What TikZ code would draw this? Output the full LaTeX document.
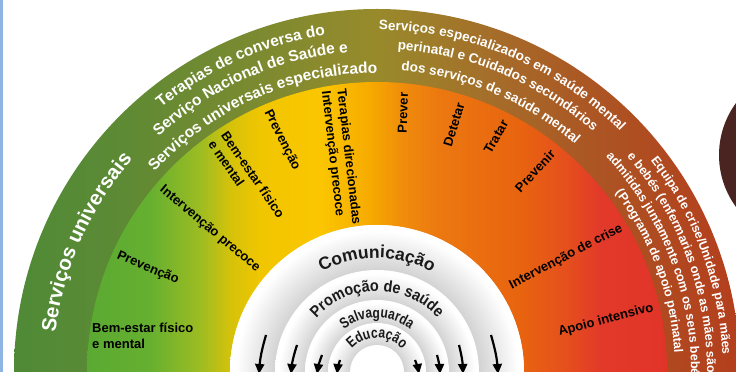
\documentclass[tikz,border=0pt]{standalone}
\usepackage{fontspec}
\setmainfont{Liberation Sans}
\newfontfamily\narrowA{Liberation Sans}[FakeStretch=0.9]
\newfontfamily\narrowB{Liberation Sans}[FakeStretch=0.8]
\usetikzlibrary{decorations.text,arrows.meta}

\definecolor{ob1}{HTML}{4F8A37}
\definecolor{ob2}{HTML}{5D8A34}
\definecolor{ob3}{HTML}{7A8A30}
\definecolor{ob4}{HTML}{988A2B}
\definecolor{ob5}{HTML}{A4702A}
\definecolor{ob6}{HTML}{AB5824}
\definecolor{ob7}{HTML}{B1461F}
\definecolor{ob8}{HTML}{B43E1D}

\definecolor{id1}{HTML}{5AA932}
\definecolor{id2}{HTML}{66B030}
\definecolor{id3}{HTML}{9CBC22}
\definecolor{id4}{HTML}{D4C20A}
\definecolor{id5}{HTML}{F0C600}
\definecolor{id6}{HTML}{FBC600}
\definecolor{id7}{HTML}{F6AA00}
\definecolor{id8}{HTML}{F08A0C}
\definecolor{id9}{HTML}{EC7810}
\definecolor{id10}{HTML}{E8640F}
\definecolor{id11}{HTML}{E5501C}
\definecolor{id12}{HTML}{E23A2A}
\definecolor{id13}{HTML}{E03428}

\definecolor{ringgray}{HTML}{D3D3D3}
\definecolor{ringtext}{HTML}{1A1A1A}
\definecolor{brownc}{HTML}{4A2420}
\definecolor{bluel}{HTML}{8DB4E2}

\pgfdeclarehorizontalshading{outerband}{100bp}{color(0bp)=(ob1); color(25bp)=(ob1); color(32.3bp)=(ob2); color(41.3bp)=(ob3); color(50bp)=(ob4); color(57.1bp)=(ob5); color(64bp)=(ob6); color(70.9bp)=(ob7); color(75bp)=(ob8); color(100bp)=(ob8)}
\pgfdeclarehorizontalshading{innerdisc}{100bp}{color(0bp)=(id1); color(25bp)=(id1); color(30.4bp)=(id2); color(34.7bp)=(id3); color(37.3bp)=(id4); color(39.9bp)=(id5); color(45.1bp)=(id6); color(49.4bp)=(id7); color(52.4bp)=(id8); color(55.4bp)=(id9); color(62.3bp)=(id10); color(66.2bp)=(id11); color(69.2bp)=(id12); color(75bp)=(id13); color(100bp)=(id13)}
\pgfdeclareradialshading{ringA}{\pgfpoint{0bp}{0bp}}{color(0bp)=(ringgray); color(17.35bp)=(ringgray); color(24bp)=(white); color(50bp)=(white)}
\pgfdeclareradialshading{ringB}{\pgfpoint{0bp}{0bp}}{color(0bp)=(ringgray); color(17.65bp)=(ringgray); color(24bp)=(white); color(50bp)=(white)}
\pgfdeclareradialshading{ringC}{\pgfpoint{0bp}{0bp}}{color(0bp)=(ringgray); color(17.0bp)=(ringgray); color(24bp)=(white); color(50bp)=(white)}
\pgfdeclareradialshading{ringD}{\pgfpoint{0bp}{0bp}}{color(0bp)=(ringgray); color(13.8bp)=(ringgray); color(24bp)=(white); color(50bp)=(white)}

\newcommand\fUniv{\fontsize{20.5}{24}\selectfont\bfseries\color{white}}
\newcommand\fTL{\fontsize{15.5}{18}\selectfont\bfseries\color{white}}
\newcommand\fTR{\fontsize{13.5}{16}\selectfont\bfseries\color{white}}
\newcommand\fRt{\fontsize{12.5}{15}\selectfont\bfseries\color{white}}
\newcommand\fCom{\fontsize{17.5}{20}\selectfont\bfseries\color{ringtext}}
\newcommand\fPro{\fontsize{16}{18}\narrowA\bfseries\color{ringtext}}
\newcommand\fSal{\fontsize{15}{17}\narrowB\bfseries\color{ringtext}}

% #1 radius, #2 centre angle, #3 half span, #4 format, #5 text
\newcommand\ArcLabel[5]{%
  \pgfmathsetmacro\arcsa{#2+#3}%
  \pgfmathsetmacro\arcea{#2-#3}%
  \path[decorate, decoration={text along path, text align=center, text={|#4|#5}}]
    ([shift={(C)}]\arcsa:#1) arc[start angle=\arcsa, end angle=\arcea, radius=#1];}

\tikzset{
  lbl/.style={font=\fontsize{13}{15.5}\selectfont\bfseries, text=black, inner sep=0pt},
  arr/.style={line width=2.2pt, -{Triangle[length=10pt,width=9pt]}}
}

\begin{document}
\begin{tikzpicture}[x=1pt,y=1pt]
\useasboundingbox (0,0) rectangle (736,372);
\fill[white] (0,0) rectangle (736,372);
\clip (0,0) rectangle (736,372);
\coordinate (C) at (377,0);

% left blue rule and right brown circle
\fill[bluel] (0,0) rectangle (3,372);
\fill[brownc] (807,217) circle[radius=88];

% bands
\shade[shading=outerband] (C) circle[radius=363];
\shade[shading=innerdisc] (C) circle[radius=290];
\fill[white] (C) circle[radius=147];
\shade[shading=ringA] (C) circle[radius=147];
\shade[shading=ringB] (C) circle[radius=102];
\shade[shading=ringC] (C) circle[radius=72];
\shade[shading=ringD] (C) circle[radius=49];
\fill[white] (C) circle[radius=27];

% outer band texts
\ArcLabel{324}{156}{40}{\fUniv}{Serviços universais}
\ArcLabel{341}{114}{45}{\fTL}{Terapias de conversa do}
\ArcLabel{321}{114}{45}{\fTL}{Serviço Nacional de Saúde e}
\ArcLabel{299}{114}{45}{\fTL}{Serviços universais especializado}
\ArcLabel{342}{67.2}{40}{\fTR}{Serviços especializados em saúde mental}
\ArcLabel{323}{67.2}{40}{\fTR}{perinatal e Cuidados secundários}
\ArcLabel{302}{67.2}{40}{\fTR}{dos serviços de saúde mental}
\ArcLabel{346}{20.3}{45}{\fRt}{Equipa de crise/Unidade para mães}
\ArcLabel{330}{20.3}{45}{\fRt}{e bebés (enfermarias onde as mães são}
\ArcLabel{314}{20.3}{45}{\fRt}{admitidas juntamente com os seus bebés)}
\ArcLabel{298}{20.3}{45}{\fRt}{(Programa de apoio perinatal}

% ring texts
\ArcLabel{114}{90}{80}{\fCom}{Comunicação}
\ArcLabel{81}{90}{85}{\fPro}{Promoção de saúde}
\ArcLabel{54}{90}{85}{\fSal}{Salvaguarda}
\ArcLabel{34}{90}{85}{\fSal}{Educação}

% inner disc labels
\node[lbl, anchor=west, align=left] (bem1) at (92,36) {Bem-estar físico\\e mental};
\node[lbl, rotate=-23] (prev1) at (148,104) {Prevenção};
\node[lbl, rotate=-40] (intp1) at (210,143) {Intervenção precoce};
\node[lbl, rotate=-55.5, anchor=west, align=left] (bem2) at (218,235) {Bem-estar físico\\e mental};
\node[lbl, rotate=-63.5] (prev2) at (282,232) {Prevenção};
\node[lbl, rotate=-83.5, anchor=west, align=left] (terap) at (333,282) {Terapias direcionadas\\Intervenção precoce};
\node[lbl, rotate=88] (prever) at (403,259) {Prever};
\node[lbl, rotate=73] (detetar) at (454,247) {Detetar};
\node[lbl, rotate=60] (tratar) at (496,235) {Tratar};
\node[lbl, rotate=47] (prevenir) at (535,201) {Prevenir};
\node[lbl, rotate=27.5] (crise) at (566,115) {Intervenção de crise};
\node[lbl, rotate=14.5] (apoio) at (606,52) {Apoio intensivo};

% arrows
\coordinate (a1s) at (266,37);  \coordinate (a1e) at (259,-2);
\coordinate (a2s) at (297,27);  \coordinate (a2e) at (291,-2);
\coordinate (a3s) at (322,17);  \coordinate (a3e) at (317,-2);
\coordinate (a4s) at (340,12);  \coordinate (a4e) at (337,-2);
\coordinate (a5s) at (415,12);  \coordinate (a5e) at (419,-2);
\coordinate (a6s) at (437,17);  \coordinate (a6e) at (440,-2);
\coordinate (a7s) at (459,27);  \coordinate (a7e) at (463,-2);
\coordinate (a8s) at (491,37);  \coordinate (a8e) at (498,-2);
\draw[arr] (a1s) to[bend right=6] (a1e);
\draw[arr] (a2s) to[bend right=6] (a2e);
\draw[arr] (a3s) to[bend right=6] (a3e);
\draw[arr] (a4s) to[bend right=6] (a4e);
\draw[arr] (a5s) to[bend left=6] (a5e);
\draw[arr] (a6s) to[bend left=6] (a6e);
\draw[arr] (a7s) to[bend left=6] (a7e);
\draw[arr] (a8s) to[bend left=6] (a8e);
\end{tikzpicture}
\end{document}
